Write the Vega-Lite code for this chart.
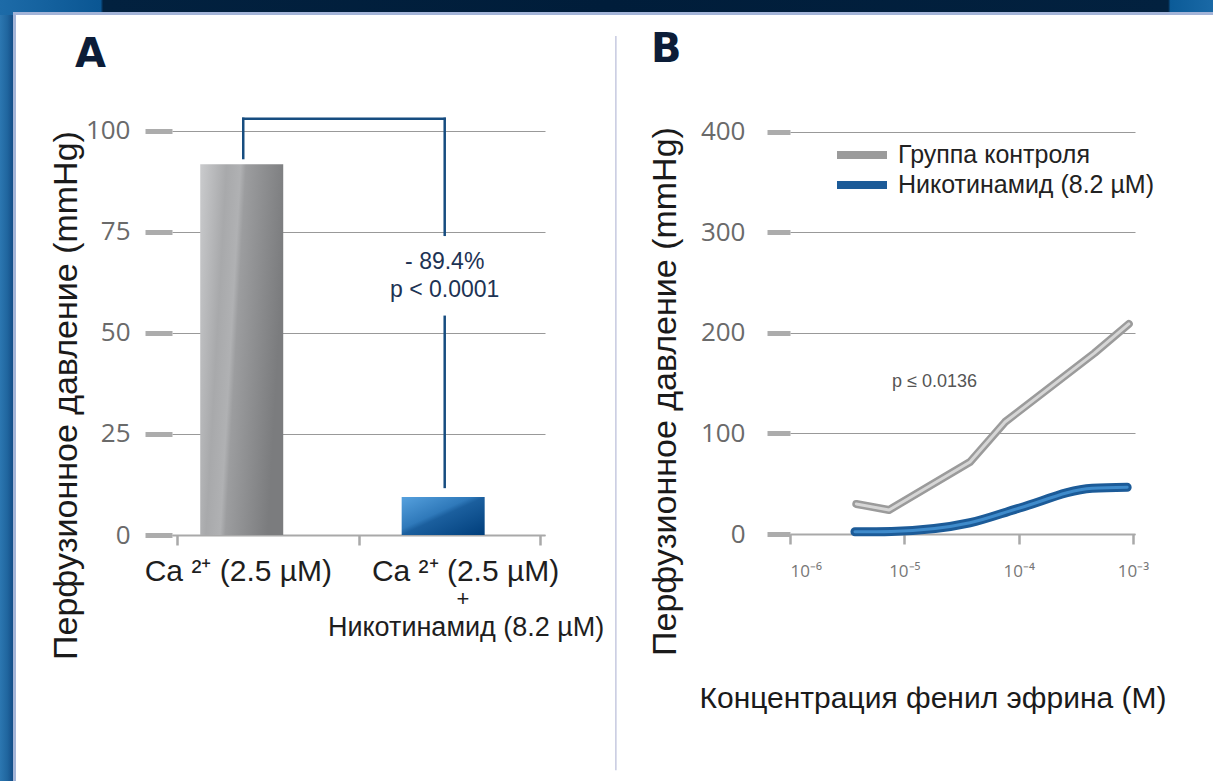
{
  "$schema": "https://vega.github.io/schema/vega-lite/v6.json",
  "background": "white",
  "padding": 0,
  "bounds": "flush",
  "spacing": 0,
  "datasets": {
    "bars": [
      {"group": "Ca", "x": 0.3566, "y": 91.75},
      {"group": "CaNic", "x": 1.4665, "y": 9.4}
    ],
    "bracket": [
      {"x": 0.365, "y": 93.3, "x2": 0.365, "y2": 103},
      {"x": 0.365, "y": 103, "x2": 1.475, "y2": 103},
      {"x": 1.475, "y": 103, "x2": 1.475, "y2": 74.3},
      {"x": 1.475, "y": 54, "x2": 1.475, "y2": 11.9}
    ],
    "ann": [
      {"x": 1.475, "y": 67.6, "text": "- 89.4%"},
      {"x": 1.475, "y": 60.6, "text": "p < 0.0001"}
    ],
    "catMain": [
      {"x": 0.338, "y": -9.2, "text": "Ca ²⁺ (2.5 µM)"},
      {"x": 1.59, "y": -9.2, "text": "Ca ²⁺ (2.5 µM)"}
    ],
    "catPlus": [
      {"x": 1.576, "y": -15.9, "text": "+"}
    ],
    "catSub": [
      {"x": 1.593, "y": -23.0, "text": "Никотинамид (8.2 µM)"}
    ],
    "sep": [{"x": 2.418, "y": 123.5, "y2": -58.2}],
    "curves": [
      {"series": "Группа контроля", "conc": 0.0000038, "value": 29.9},
      {"series": "Группа контроля", "conc": 0.00000735, "value": 23.9},
      {"series": "Группа контроля", "conc": 0.0000375, "value": 71.6},
      {"series": "Группа контроля", "conc": 0.000076, "value": 111.4},
      {"series": "Группа контроля", "conc": 0.00046, "value": 180},
      {"series": "Группа контроля", "conc": 0.00092, "value": 209},
      {"series": "Никотинамид (8.2 µM)", "conc": 0.0000037, "value": 2.2},
      {"series": "Никотинамид (8.2 µM)", "conc": 0.0000077, "value": 2.6},
      {"series": "Никотинамид (8.2 µM)", "conc": 0.0000375, "value": 11.2},
      {"series": "Никотинамид (8.2 µM)", "conc": 0.000102, "value": 25.9},
      {"series": "Никотинамид (8.2 µM)", "conc": 0.00044, "value": 45.5},
      {"series": "Никотинамид (8.2 µM)", "conc": 0.00089, "value": 46.5}
    ],
    "pnote": [{"conc": 0.0000184, "value": 151, "text": "p ≤ 0.0136"}],
    "stripTop": [{"x0": 0, "x1": 1, "y0": 0, "y1": 15}],
    "stripTopLine": [{"x0": 0.0107, "x1": 1, "y0": 0, "y1": 3}],
    "stripLeft": [{"x0": 0, "x1": 1}]
  },
  "config": {
    "view": {"stroke": null},
    "text": {"font": "Liberation Sans"},
    "legend": {"labelFont": "Liberation Sans"}
  },
  "vconcat": [
    {
      "width": 1213,
      "height": 15,
      "encoding": {
        "x": {"field": "x0", "type": "quantitative", "scale": {"domain": [0, 1], "nice": false}, "axis": null},
        "x2": {"field": "x1"},
        "y": {"field": "y0", "type": "quantitative", "scale": {"domain": [0, 15], "nice": false}, "axis": null},
        "y2": {"field": "y1"}
      },
      "layer": [
        {
          "data": {"name": "stripTop"},
          "mark": {"type": "rect", "color": {"gradient": "linear", "x1": 0, "y1": 0, "x2": 1, "y2": 0, "stops": [
            {"offset": 0, "color": "#1d6ba8"},
            {"offset": 0.083, "color": "#0a5693"},
            {"offset": 0.085, "color": "#02213f"},
            {"offset": 0.5, "color": "#001d3a"},
            {"offset": 0.963, "color": "#02213f"},
            {"offset": 0.965, "color": "#0b5b98"},
            {"offset": 1, "color": "#1a69a6"}
          ]}}
        },
        {
          "data": {"name": "stripTopLine"},
          "mark": {"type": "rect", "color": "#a3b4d8"}
        }
      ]
    },
    {
      "bounds": "flush",
      "spacing": 156,
      "hconcat": [
        {
          "width": 16,
          "height": 766,
          "data": {"name": "stripLeft"},
          "mark": {"type": "rect", "color": {"gradient": "linear", "x1": 0, "y1": 0, "x2": 1, "y2": 0, "stops": [
            {"offset": 0, "color": "#2c77b1"},
            {"offset": 0.45, "color": "#20669f"},
            {"offset": 0.79, "color": "#154f88"},
            {"offset": 0.81, "color": "#a4b5d8"},
            {"offset": 1, "color": "#a4b5d8"}
          ]}},
          "encoding": {
            "x": {"field": "x0", "type": "quantitative", "scale": {"domain": [0, 1], "nice": false}, "axis": null},
            "x2": {"field": "x1"}
          }
        },
        {
          "bounds": "flush",
          "spacing": 245,
          "hconcat": [
            {
              "width": 373,
              "height": 520,
              "title": {"text": "A", "anchor": "start", "frame": "group", "orient": "top", "offset": 0, "dx": -97, "dy": 92, "baseline": "alphabetic", "font": "DejaVu Sans", "fontSize": 40, "fontWeight": "bold", "color": "#0c1d38"},
              "encoding": {
                "x": {"field": "x", "type": "quantitative", "scale": {"domain": [0, 2], "nice": false, "zero": false},
                  "axis": {"values": [0, 1, 2], "labels": false, "grid": false, "title": null, "domainColor": "#a9a9a9", "domainWidth": 2, "tickColor": "#a9a9a9", "tickWidth": 2.5, "tickSize": 10}},
                "y": {"field": "y", "type": "quantitative", "scale": {"domain": [0, 128.7], "nice": false},
                  "axis": {"values": [0, 25, 50, 75, 100], "grid": true, "gridColor": "#999999", "gridWidth": 1.2, "domain": false,
                    "tickSize": 27, "tickWidth": 5, "tickColor": "#acacac",
                    "labelFont": "Open Sans", "labelFontSize": 26, "labelColor": "#6a6a6a", "labelPadding": 15,
                    "title": "Перфузионное давление (mmHg)", "titleFont": "Liberation Sans", "titleFontSize": 34, "titleFontWeight": "normal", "titleColor": "#1a1a1a",
                    "titleX": -96, "titleY": 380, "titleBaseline": "alphabetic", "titleAlign": "center"}}
              },
              "layer": [
                {
                  "data": {"name": "bars"},
                  "transform": [{"filter": "datum.group === 'Ca'"}],
                  "mark": {"type": "bar", "orient": "vertical", "width": 83, "color": {"gradient": "linear", "x1": 0, "y1": 0, "x2": 1, "y2": 0.25, "stops": [
                    {"offset": 0, "color": "#cacbcd"},
                    {"offset": 0.3, "color": "#a8a9ab"},
                    {"offset": 0.46, "color": "#b0b1b3"},
                    {"offset": 0.52, "color": "#9c9d9f"},
                    {"offset": 1, "color": "#7b7c7e"}
                  ]}}
                },
                {
                  "data": {"name": "bars"},
                  "transform": [{"filter": "datum.group === 'CaNic'"}],
                  "mark": {"type": "bar", "orient": "vertical", "width": 83, "color": {"gradient": "linear", "x1": 0, "y1": 0, "x2": 1, "y2": 1, "stops": [
                    {"offset": 0, "color": "#56a1de"},
                    {"offset": 0.42, "color": "#2f79ba"},
                    {"offset": 0.5, "color": "#1b5f9e"},
                    {"offset": 1, "color": "#003e7b"}
                  ]}}
                },
                {
                  "data": {"name": "bracket"},
                  "mark": {"type": "rule", "color": "#174d80", "strokeWidth": 2.5, "strokeCap": "square"},
                  "encoding": {"x2": {"field": "x2"}, "y2": {"field": "y2"}}
                },
                {
                  "data": {"name": "ann"},
                  "mark": {"type": "text", "fontSize": 23, "color": "#1d3354", "align": "center", "baseline": "middle"},
                  "encoding": {"text": {"field": "text"}}
                },
                {
                  "data": {"name": "catMain"},
                  "mark": {"type": "text", "fontSize": 30, "color": "#1e1e1e", "align": "center", "baseline": "middle"},
                  "encoding": {"text": {"field": "text"}}
                },
                {
                  "data": {"name": "catPlus"},
                  "mark": {"type": "text", "fontSize": 22, "color": "#1e1e1e", "align": "center", "baseline": "middle"},
                  "encoding": {"text": {"field": "text"}}
                },
                {
                  "data": {"name": "catSub"},
                  "mark": {"type": "text", "fontSize": 27, "color": "#1e1e1e", "align": "center", "baseline": "middle"},
                  "encoding": {"text": {"field": "text"}}
                },
                {
                  "data": {"name": "sep"},
                  "mark": {"type": "rule", "color": "#c6c9e0", "strokeWidth": 1.5},
                  "encoding": {"y2": {"field": "y2"}}
                }
              ]
            },
            {
              "width": 345,
              "height": 519,
              "title": {"text": "B", "anchor": "start", "frame": "group", "orient": "top", "offset": 0, "dx": -139, "dy": 87, "baseline": "alphabetic", "font": "DejaVu Sans", "fontSize": 40, "fontWeight": "bold", "color": "#0c1d38"},
              "encoding": {
                "x": {"field": "conc", "type": "quantitative", "scale": {"type": "log", "domain": [0.000001, 0.001042], "nice": false},
                  "axis": {"values": [0.000001, 0.00001, 0.0001, 0.001], "grid": false, "title": "Концентрация фенил эфрина (M)",
                    "labelExpr": "datum.value < 0.000005 ? '10⁻⁶' : datum.value < 0.00005 ? '10⁻⁵' : datum.value < 0.0005 ? '10⁻⁴' : '10⁻³'",
                    "labelFont": "Open Sans", "labelFontSize": 17, "labelColor": "#777777", "labelPadding": 19,
                    "domainColor": "#a9a9a9", "domainWidth": 2, "tickColor": "#a9a9a9", "tickWidth": 2.5, "tickSize": 10,
                    "titleFont": "Liberation Sans", "titleFontSize": 30, "titleFontWeight": "normal", "titleColor": "#1a1a1a",
                    "titleX": 142.5, "titleY": 173, "titleBaseline": "alphabetic", "titleAlign": "center"}},
                "y": {"field": "value", "type": "quantitative", "scale": {"domain": [0, 516.4], "nice": false},
                  "axis": {"values": [0, 100, 200, 300, 400], "grid": true, "gridColor": "#999999", "gridWidth": 1.2, "domain": false,
                    "tickSize": 23, "tickWidth": 5, "tickColor": "#acacac",
                    "labelFont": "Open Sans", "labelFontSize": 26, "labelColor": "#6a6a6a", "labelPadding": 22,
                    "title": "Перфузионное давление (mmHg)", "titleFont": "Liberation Sans", "titleFontSize": 34, "titleFontWeight": "normal", "titleColor": "#1a1a1a",
                    "titleX": -115, "titleY": 376, "titleBaseline": "alphabetic", "titleAlign": "center"}}
              },
              "layer": [
                {
                  "data": {"name": "curves"},
                  "transform": [{"filter": "datum.series === 'Группа контроля'"}],
                  "mark": {"type": "line", "strokeWidth": 8, "strokeCap": "round", "strokeJoin": "round"},
                  "encoding": {
                    "color": {"field": "series", "type": "nominal",
                      "scale": {"domain": ["Группа контроля", "Никотинамид (8.2 µM)"], "range": ["#9b9b9b", "#1c5b98"]},
                      "legend": {"title": null, "orient": "none", "legendX": 848, "legendY": 141, "padding": 0,
                        "symbolType": "M-2.5,0H2.5", "symbolSize": 400, "symbolStrokeWidth": 8, "labelOffset": 22,
                        "labelFontSize": 25, "labelLimit": 400, "labelColor": "#222222", "rowPadding": -4}}
                  }
                },
                {
                  "data": {"name": "curves"},
                  "transform": [{"filter": "datum.series !== 'Группа контроля'"}],
                  "mark": {"type": "line", "strokeWidth": 9, "strokeCap": "round", "strokeJoin": "round", "interpolate": "monotone"},
                  "encoding": {
                    "color": {"field": "series", "type": "nominal",
                      "scale": {"domain": ["Группа контроля", "Никотинамид (8.2 µM)"], "range": ["#9b9b9b", "#1c5b98"]},
                      "legend": {"title": null, "orient": "none", "legendX": 848, "legendY": 141, "padding": 0,
                        "symbolType": "M-2.5,0H2.5", "symbolSize": 400, "symbolStrokeWidth": 8, "labelOffset": 22,
                        "labelFontSize": 25, "labelLimit": 400, "labelColor": "#222222", "rowPadding": -4}}
                  }
                },
                {
                  "data": {"name": "curves"},
                  "transform": [{"filter": "datum.series === 'Группа контроля'"}],
                  "mark": {"type": "line", "strokeWidth": 3, "strokeCap": "round", "strokeJoin": "round", "color": "#d6d6d6"}
                },
                {
                  "data": {"name": "curves"},
                  "transform": [{"filter": "datum.series !== 'Группа контроля'"}],
                  "mark": {"type": "line", "strokeWidth": 3, "strokeCap": "round", "strokeJoin": "round", "interpolate": "monotone", "color": "#3f8bcb"}
                },
                {
                  "data": {"name": "pnote"},
                  "mark": {"type": "text", "fontSize": 18, "color": "#555555", "align": "center", "baseline": "middle"},
                  "encoding": {"text": {"field": "text"}}
                }
              ]
            }
          ]
        }
      ]
    }
  ]
}
